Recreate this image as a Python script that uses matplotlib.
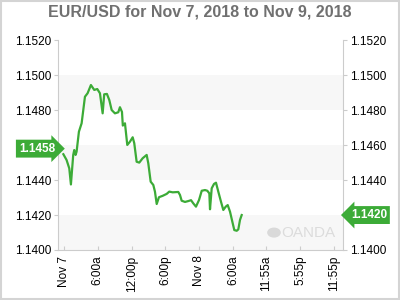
import numpy as np
import matplotlib.pyplot as plt
from matplotlib.transforms import blended_transform_factory
from matplotlib.patches import Rectangle, Circle

plt.rcParams['font.family'] = ['Liberation Sans', 'DejaVu Sans']

# hours since Nov 7 00:00 and EUR/USD rate
hours = [-0.1, 0.47, 0.95, 1.24, 1.65, 1.83, 2.07, 2.25, 2.66, 3.14, 3.73, 4.2, 4.79, 5.38,
         5.92, 6.39, 6.87, 7.15, 7.63, 8.05, 8.47, 9.05, 9.64, 9.94, 10.3, 10.45, 10.83,
         11.24, 11.72, 12.2, 12.48, 12.9, 13.37, 13.97, 14.68, 14.97, 15.39, 15.86, 16.15,
         16.46, 16.86, 17.52, 18.23, 18.69, 19.3, 20.29, 20.59, 20.89, 21.48, 22.07, 22.55,
         22.95, 23.43, 23.97, 24.45, 25.03, 25.44, 25.8, 25.92, 26.22, 26.63, 26.98, 27.39,
         27.87, 28.28, 28.71, 29.06, 29.47, 29.88, 30.23, 30.66, 30.94, 31.24, 31.54]
rate = [1.14548, 1.14515, 1.14467, 1.14375, 1.14544, 1.14572, 1.14544, 1.14563, 1.14677,
        1.14725, 1.14877, 1.14897, 1.14944, 1.14916, 1.14921, 1.14897, 1.14782, 1.14891,
        1.14893, 1.14858, 1.14801, 1.14782, 1.14788, 1.14817, 1.14790, 1.14712, 1.14725,
        1.14601, 1.14620, 1.14645, 1.14611, 1.14505, 1.14500, 1.14525, 1.14544, 1.14496,
        1.14391, 1.14372, 1.14334, 1.14263, 1.14302, 1.14310, 1.14321, 1.14334, 1.14330,
        1.14332, 1.14315, 1.14282, 1.14275, 1.14280, 1.14285, 1.14267, 1.14248, 1.14286,
        1.14339, 1.14343, 1.14339, 1.14324, 1.14233, 1.14353, 1.14378, 1.14385, 1.14334,
        1.14276, 1.14229, 1.14248, 1.14257, 1.14219, 1.14162, 1.14114, 1.14110, 1.14118,
        1.14172, 1.14200]

xtick_pos = [0, 6, 12, 18, 24, 30, 35.92, 41.92, 47.92]
xtick_lab = ['Nov 7', '6:00a', '12:00p', '6:00p', 'Nov 8', '6:00a', '11:55a', '5:55p', '11:55p']
yticks = [1.1400, 1.1420, 1.1440, 1.1460, 1.1480, 1.1500, 1.1520]
bands = [(1.1400, 1.1420), (1.1440, 1.1460), (1.1480, 1.1500)]
open_val = 1.1458
last_val = 1.1420

green = '#3cab37'
grey = '#cccccc'

fig = plt.figure(figsize=(4, 3), dpi=100)
fig.patches.append(Rectangle((0.003, 0.004), 0.994, 0.992, transform=fig.transFigure,
                             fill=False, edgecolor='#d4d4d4', linewidth=1.5))
ax = fig.add_axes([0.146, 0.1667, 0.711, 0.699])

for lo, hi in bands:
    ax.axhspan(lo, hi, color='#f7f7f7', zorder=0, linewidth=0)

ax.plot(hours, rate, color=green, linewidth=1.6, zorder=3)

ax.set_xlim(-0.98, 49.48)
ax.set_ylim(1.1400, 1.1520)
ax.set_yticks(yticks)
ax.set_yticklabels(['%.4f' % v for v in yticks])
ax.set_xticks(xtick_pos)
ax.set_xticklabels(xtick_lab, rotation=90)
ax.tick_params(axis='y', which='both', labelsize=8.5, colors=grey, labelcolor='black',
               length=3, left=True, right=True, labelleft=True, labelright=True, pad=2)
ax.tick_params(axis='x', labelsize=8.5, colors=grey, labelcolor='black', length=3,
               direction='in', pad=4)
for side in ['left', 'right', 'bottom']:
    ax.spines[side].set_color(grey)
ax.spines['top'].set_visible(False)

# left tick label under the open-price tag is hidden, as in the original
for t in ax.yaxis.get_major_ticks():
    if abs(t.get_loc() - 1.1460) < 1e-9:
        t.label1.set_visible(False)

fig.suptitle('EUR/USD for Nov 7, 2018 to Nov 9, 2018', y=0.985, fontsize=11.5,
             fontweight='bold', color='#707070')

tr = blended_transform_factory(ax.transAxes, ax.transData)
ax.text(-0.012, open_val, '1.1458', transform=tr, ha='right', va='center', fontsize=8.5,
        fontweight='bold', color='white',
        bbox=dict(boxstyle='rarrow,pad=0.25', facecolor=green, edgecolor='none'))
ax.text(1.028, last_val, '1.1420', transform=tr, ha='left', va='center', fontsize=8.5,
        fontweight='bold', color='white',
        bbox=dict(boxstyle='larrow,pad=0.25', facecolor=green, edgecolor='none'))

# watermark
ax.add_patch(Circle((0.758, 0.083), 0.024, transform=ax.transAxes, facecolor='#d9d9d9',
                    edgecolor='none', zorder=1))
ax.text(0.785, 0.083, 'OANDA', transform=ax.transAxes, ha='left', va='center',
        fontsize=11, color='#dcdcdc', zorder=1)

fig.savefig('out.png', dpi=100)
